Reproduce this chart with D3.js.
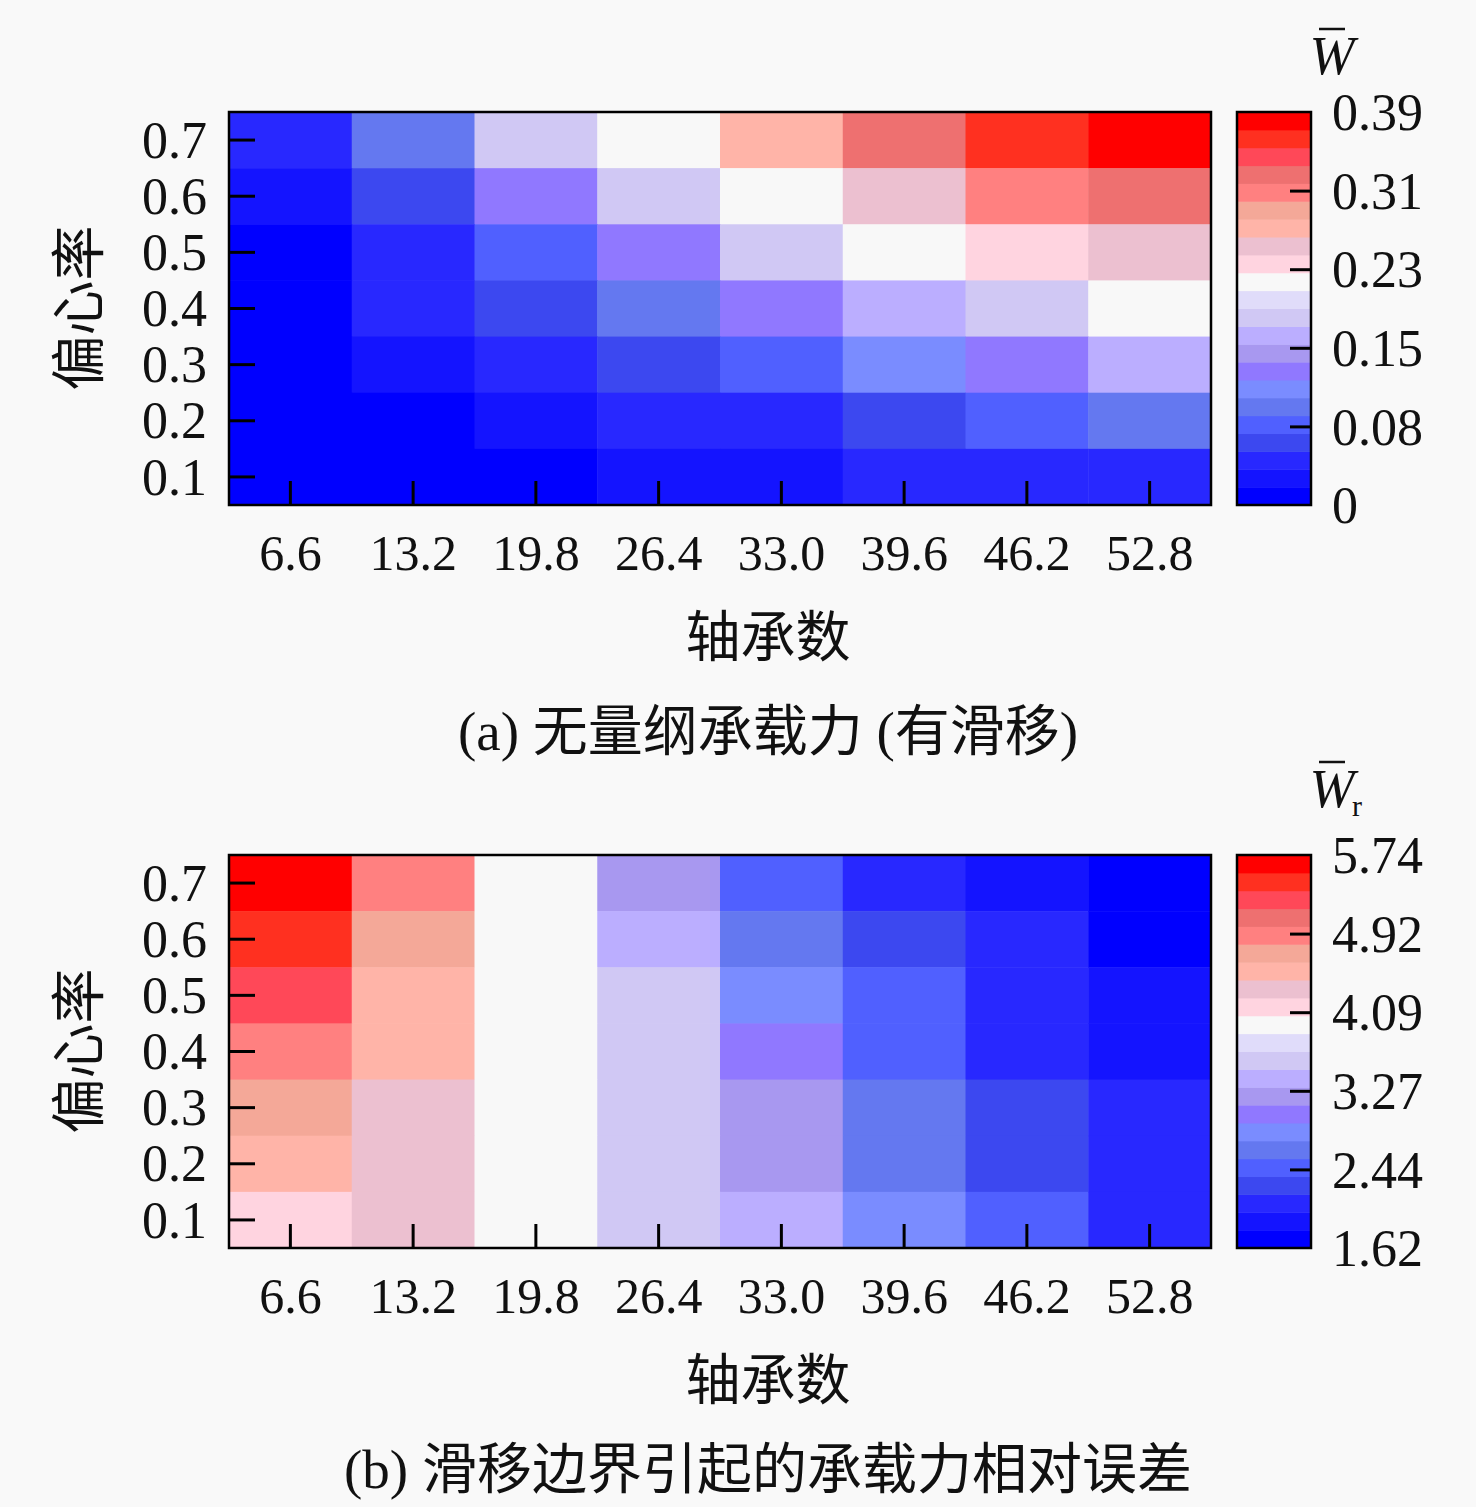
<!DOCTYPE html>
<html>
<head>
<meta charset="utf-8">
<script src="https://cdn.jsdelivr.net/npm/d3@7"></script>
<style>
  html, body { margin: 0; padding: 0; background: #f9f9f9; }
  svg text { fill: #111; }
</style>
</head>
<body>
<svg id="chart" width="1476" height="1507"></svg>
<script>
// bearing numbers (x) and eccentricity ratios (y, top to bottom)
var bearingNums = ['6.6', '13.2', '19.8', '26.4', '33.0', '39.6', '46.2', '52.8'];
var eccRatios = ['0.7', '0.6', '0.5', '0.4', '0.3', '0.2', '0.1'];

// (a) dimensionless load capacity with slip, rows follow eccRatios
var loadSlip = [
  [0.045, 0.097, 0.186, 0.222, 0.275, 0.328, 0.362, 0.385],
  [0.027, 0.063, 0.133, 0.184, 0.220, 0.258, 0.310, 0.330],
  [0.010, 0.043, 0.080, 0.131, 0.187, 0.224, 0.240, 0.256],
  [0.008, 0.041, 0.060, 0.098, 0.134, 0.168, 0.188, 0.221],
  [0.006, 0.025, 0.044, 0.064, 0.079, 0.113, 0.132, 0.166],
  [0.004, 0.012, 0.028, 0.046, 0.042, 0.062, 0.081, 0.096],
  [0.002, 0.006, 0.013, 0.024, 0.026, 0.036, 0.038, 0.040]
];
var loadRange = [0, 0.385];
var loadTicks = ['0', '0.08', '0.15', '0.23', '0.31', '0.39'];

// (b) relative error of load capacity caused by the slip boundary
var relError = [
  [5.70, 4.90, 3.96, 3.21, 2.46, 2.09, 1.90, 1.66],
  [5.46, 4.71, 3.95, 3.40, 2.65, 2.28, 2.10, 1.70],
  [5.27, 4.52, 3.94, 3.58, 2.84, 2.47, 2.08, 1.88],
  [4.89, 4.50, 3.92, 3.56, 3.02, 2.45, 2.06, 1.85],
  [4.70, 4.34, 3.93, 3.55, 3.22, 2.64, 2.27, 2.05],
  [4.53, 4.33, 3.95, 3.57, 3.20, 2.62, 2.26, 2.04],
  [4.15, 4.35, 3.97, 3.60, 3.41, 2.83, 2.48, 2.03]
];
var errRange = [1.62, 5.74];
var errTicks = ['1.62', '2.44', '3.27', '4.09', '4.92', '5.74'];

// stepped blue-white-red map, low to high
var palette = ['#0000ff', '#1414ff', '#2828ff', '#3c48f0', '#5060ff', '#6478f0',
  '#7a8cff', '#9078ff', '#a898f0', '#bbaeff', '#d0c8f4', '#e0dcfa', '#f8f8f8',
  '#ffd4e0', '#ecc0d0', '#ffb4a8', '#f4a898', '#ff8080', '#ee7070', '#ff4858',
  '#ff3020', '#ff0000'];

var svg = d3.select('#chart');
var serif = '"Liberation Serif", "Times New Roman", serif';
var cjk = '"Liberation Serif", "Noto Sans CJK SC", serif';

function drawPanel(opt) {
  var top = opt.top, bottom = opt.top + 393;
  var left = 229, right = 1211;

  var x = d3.scaleBand().domain(bearingNums).range([left, right]);
  var y = d3.scaleBand().domain(eccRatios).range([top, bottom]);
  var color = d3.scaleQuantize().domain(opt.range).range(palette);

  var g = svg.append('g');

  // cells
  var cells = [];
  opt.values.forEach(function(row, i) {
    row.forEach(function(v, j) {
      cells.push({ x: bearingNums[j], y: eccRatios[i], v: v });
    });
  });
  g.selectAll('rect.cell')
    .data(cells)
    .enter().append('rect')
    .attr('class', 'cell')
    .attr('x', function(d) { return x(d.x); })
    .attr('y', function(d) { return y(d.y); })
    .attr('width', x.bandwidth() + 0.5)
    .attr('height', y.bandwidth() + 0.5)
    .attr('fill', function(d) { return color(d.v); });

  // inward ticks
  var yAxis = g.append('g')
    .attr('transform', 'translate(' + left + ',0)')
    .call(d3.axisLeft(y).tickSize(-26).tickPadding(22));
  var xAxis = g.append('g')
    .attr('transform', 'translate(0,' + bottom + ')')
    .call(d3.axisBottom(x).tickSize(-24).tickPadding(29));
  [yAxis, xAxis].forEach(function(a) {
    a.select('.domain').remove();
    a.selectAll('line').attr('stroke', '#000').attr('stroke-width', 3);
    a.selectAll('text').attr('font-family', serif).attr('fill', '#111');
  });
  yAxis.selectAll('text').attr('font-size', '52px').attr('dy', '0.34em');
  xAxis.selectAll('text').attr('font-size', '50px').attr('dy', '0.71em');

  // frame
  g.append('rect')
    .attr('x', left).attr('y', top)
    .attr('width', right - left).attr('height', bottom - top)
    .attr('fill', 'none').attr('stroke', '#000').attr('stroke-width', 2.5);

  // axis titles
  g.append('text')
    .attr('transform', 'translate(98,' + (top + 196) + ') rotate(-90)')
    .attr('text-anchor', 'middle')
    .attr('font-family', cjk).attr('font-size', '55px')
    .text('偏心率');
  g.append('text')
    .attr('x', 768).attr('y', bottom + 151)
    .attr('text-anchor', 'middle')
    .attr('font-family', cjk).attr('font-size', '55px')
    .text('轴承数');
  g.append('text')
    .attr('x', 768).attr('y', bottom + opt.capDy)
    .attr('text-anchor', 'middle')
    .attr('font-family', cjk).attr('font-size', '55px')
    .text(opt.caption);

  // colour bar
  var cbL = 1237, cbR = 1311;
  var cb = d3.scaleLinear().domain(opt.range).range([bottom, top]);
  g.selectAll('rect.band')
    .data(palette)
    .enter().append('rect')
    .attr('class', 'band')
    .attr('x', cbL)
    .attr('width', cbR - cbL)
    .attr('y', function(c) { return cb(color.invertExtent(c)[1]); })
    .attr('height', function(c) {
      var e = color.invertExtent(c);
      return cb(e[0]) - cb(e[1]) + 0.5;
    })
    .attr('fill', function(c) { return c; });
  g.append('rect')
    .attr('x', cbL).attr('y', top)
    .attr('width', cbR - cbL).attr('height', bottom - top)
    .attr('fill', 'none').attr('stroke', '#000').attr('stroke-width', 2.5);

  var step = (opt.range[1] - opt.range[0]) / (opt.ticks.length - 1);
  var tickVals = opt.ticks.map(function(t, i) { return opt.range[0] + i * step; });
  var cAxis = g.append('g')
    .attr('transform', 'translate(' + cbR + ',0)')
    .call(d3.axisRight(cb)
      .tickValues(tickVals)
      .tickSize(-21)
      .tickPadding(21)
      .tickFormat(function(d, i) { return opt.ticks[i]; }));
  cAxis.select('.domain').remove();
  cAxis.selectAll('line')
    .attr('stroke', '#000').attr('stroke-width', 3)
    .attr('display', function(d, i) { return (i === 0 || i === tickVals.length - 1) ? 'none' : null; });
  cAxis.selectAll('text')
    .attr('font-family', serif).attr('font-size', '52px')
    .attr('fill', '#111').attr('dy', '0.34em');

  // colour bar title: W with overbar
  var tg = g.append('g').attr('transform', 'translate(1332,' + (top - opt.titleDy) + ')');
  tg.append('text')
    .attr('text-anchor', 'middle')
    .attr('font-family', serif).attr('font-style', 'italic').attr('font-size', '54px')
    .text('W');
  tg.append('line')
    .attr('x1', -13).attr('x2', 13)
    .attr('y1', -45).attr('y2', -45)
    .attr('stroke', '#111').attr('stroke-width', 2.5);
  if (opt.sub) {
    tg.append('text')
      .attr('x', 20).attr('y', 9)
      .attr('font-family', serif).attr('font-size', '30px')
      .text(opt.sub);
  }
}

drawPanel({ top: 112, values: loadSlip, range: loadRange, ticks: loadTicks,
  caption: '(a) 无量纲承载力 (有滑移)', capDy: 245, titleDy: 38 });
drawPanel({ top: 855, values: relError, range: errRange, ticks: errTicks,
  caption: '(b) 滑移边界引起的承载力相对误差', capDy: 240, titleDy: 48, sub: 'r' });
</script>
</body>
</html>
